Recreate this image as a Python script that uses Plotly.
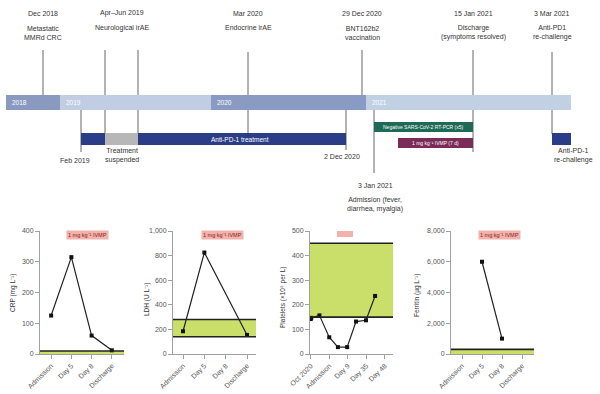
import plotly.graph_objects as go

W, H = 600, 394
def px(x): return x / W
def py(y): return 1 - y / H

FONT = "Liberation Sans, Arial, Helvetica, sans-serif"
GRAY = "#555555"

# ---------------- Panel a : timeline data (schematic positions) ----------------
years = ["2018", "2019", "2020", "2021"]
year_start = [6, 60, 211, 366]
year_end = [60, 211, 366, 571]
year_colors = ["#8a99c0", "#c0cde2", "#8a9bc3", "#c2d0e4"]

top_dates = ["Dec 2018", "Apr–Jun 2019", "Mar 2020", "29 Dec 2020", "15 Jan 2021", "3 Mar 2021"]
top_texts = ["Metastatic<br>MMRd CRC", "Neurological irAE", "Endocrine irAE",
             "BNT162b2<br>vaccination", "Discharge<br>(symptoms resolved)", "Anti-PD1<br>re-challenge"]
top_pos = [43, 122, 248, 362, 473, 552]

# event tick lines: position, top y, bottom y
event_lines = [(43, 50, 96), (105, 50, 134), (138, 50, 134), (248, 52, 134),
               (362, 50, 96), (473, 50, 152), (552, 52, 134),
               (81, 103, 152), (346, 103, 150), (374, 103, 173)]

# bars: start, end
treat_start, treat_end = 81, 346
suspend_start, suspend_end = 105, 138
rechal_start, rechal_end = 552, 571
pcr_start, pcr_end = 374, 473
ivmp_start, ivmp_end = 398, 473

# ---------------- Panel b : lab data ----------------
cats = ["Admission", "Day 5", "Day 8", "Discharge"]
crp = [125, 315, 60, 12]
ldh = [185, 825, None, 155]
ferritin = [None, 6000, 1000, None]

plt_ticks = ["Oct 2020", "Admission", "Day 9", "Day 35", "Day 48"]
plt_x = [0.0, 0.03, 0.47, 1.0, 1.47, 1.97, 2.45, 2.99, 3.48]
plt_y = [142, 147, 157, 68, 28, 28, 132, 137, 236]

crp_norm = [0, 10]
ldh_norm = [140, 280]
plt_norm = [150, 450]
fer_norm = [0, 300]

IVMP = "1 mg kg⁻¹ IVMP"

def xn(i): return "x" if i == 1 else f"x{i}"
def yn(i): return "y" if i == 1 else f"y{i}"
def xa(i): return "xaxis" if i == 1 else f"xaxis{i}"
def ya(i): return "yaxis" if i == 1 else f"yaxis{i}"

fig = go.Figure()
fig.update_layout(template="none")

# hidden axis for timeline
fig.update_layout(
    xaxis5=dict(domain=[0, 1], range=[0, 600], visible=False, anchor="y5", automargin=False),
    yaxis5=dict(domain=[py(215), 1], range=[0, 1], visible=False, anchor="x5", automargin=False),
)
fig.add_trace(go.Scatter(x=[0], y=[0], xaxis="x5", yaxis="y5", mode="markers",
                         marker=dict(opacity=0), showlegend=False, hoverinfo="skip"))

shapes = []
annotations = []

def tl_rect(x0, x1, y0, y1, color):
    shapes.append(dict(type="rect", xref="x5", yref="paper", x0=x0, x1=x1,
                       y0=py(y1), y1=py(y0), fillcolor=color, line=dict(width=0)))

def txt(x, y, text, size=7, color="#333333", xanchor="center", xref="paper", **kw):
    annotations.append(dict(x=x, y=py(y), xref=xref, yref="paper", text=text, showarrow=False,
                            font=dict(family=FONT, size=size, color=color), xanchor=xanchor,
                            yanchor="middle", **kw))

# event lines
for (x, y0, y1) in event_lines:
    shapes.append(dict(type="line", xref="x5", yref="paper", x0=x, x1=x, y0=py(y0), y1=py(y1),
                       line=dict(color="#666666", width=1)))

# year bar
for yr, s, e, c in zip(years, year_start, year_end, year_colors):
    tl_rect(s, e, 95, 110, c)
    txt(s + 4, 102.5, yr, size=6.5, color="white", xanchor="left", xref="x5")

# treatment bars
tl_rect(treat_start, treat_end, 133, 145, "#2b3d86")
tl_rect(suspend_start, suspend_end, 133, 145, "#b7b7b7")
tl_rect(rechal_start, rechal_end, 133, 145, "#2b3d86")
txt((suspend_end + treat_end) / 2 - 2, 139, "Anti-PD-1 treatment", size=6.5, color="white", xref="x5")
tl_rect(pcr_start, pcr_end, 122, 132, "#1f6a56")
txt((pcr_start + pcr_end) / 2, 127, "Negative SARS-CoV-2 RT-PCR (x5)", size=5, color="white", xref="x5")
tl_rect(ivmp_start, ivmp_end, 138, 148, "#7a2b57")
txt((ivmp_start + ivmp_end) / 2, 143, IVMP + " (7 d)", size=5, color="white", xref="x5")

# top labels
for d, t, p in zip(top_dates, top_texts, top_pos):
    txt(p, 13, d, size=7, xref="x5")
    nl = t.count("<br>")
    txt(p, 28 + 4.5 * nl, t, size=7, xref="x5")

# lower labels
txt(75, 161, "Feb 2019", size=7, xref="x5")
txt(122, 155, "Treatment<br>suspended", size=7, xref="x5")
txt(342, 157, "2 Dec 2020", size=7, xref="x5")
txt(573, 155, "Anti-PD-1<br>re-challenge", size=7, xref="x5")
txt(375, 185, "3 Jan 2021", size=7, xref="x5")
txt(375, 204, "Admission (fever,<br>diarrhea, myalgia)", size=7, xref="x5")

# panel letters
txt(7, 12, "<b>a</b>", size=8, color="#222")
txt(7, 236, "<b>b</b>", size=8, color="#222")

# ---------------- lab panels ----------------
YB, YT = 354, 231
panels = [
    dict(i=1, x0=40, x1=124, rng=[0, 400], xr=[-0.55, 3.6], dt=100),
    dict(i=2, x0=173, x1=256, rng=[0, 1000], xr=[-0.47, 3.42], dt=200),
    dict(i=3, x0=310, x1=393, rng=[0, 500], xr=[-0.04, 4.45], dt=100),
    dict(i=4, x0=451, x1=534, rng=[0, 8000], xr=[-0.55, 3.6], dt=2000),
]
ax_common = dict(showline=True, linecolor="#a0a0a0", linewidth=1, ticks="outside",
                 ticklen=4, tickcolor="#a0a0a0", showgrid=False, zeroline=False,
                 automargin=False, tickfont=dict(family=FONT, size=7, color=GRAY))
tickvals4 = [0, 1, 2, 3]
layout_axes = {}
for p in panels:
    i = p["i"]
    xd = dict(domain=[px(p["x0"]), px(p["x1"])], anchor=yn(i), range=p["xr"], tickangle=-45,
              **ax_common)
    if i == 3:
        xd.update(tickvals=[0, 1, 2, 3, 4], ticktext=plt_ticks)
    else:
        xd.update(tickvals=tickvals4, ticktext=cats)
    layout_axes[xa(i)] = xd
    layout_axes[ya(i)] = dict(domain=[py(YB), py(YT)], anchor=xn(i), range=p["rng"],
                              dtick=p["dt"], tickformat=",d", **ax_common)
fig.update_layout(**layout_axes)

def band(i, lo, hi, lower_line=True):
    shapes.append(dict(type="rect", xref=f"{xn(i)} domain", yref=yn(i), x0=0, x1=1, y0=lo, y1=hi,
                       fillcolor="#c9df6a", line=dict(width=0), layer="below"))
    shapes.append(dict(type="line", xref=f"{xn(i)} domain", yref=yn(i), x0=0, x1=1, y0=hi, y1=hi,
                       line=dict(color="#222", width=1.6)))
    if lower_line:
        shapes.append(dict(type="line", xref=f"{xn(i)} domain", yref=yn(i), x0=0, x1=1, y0=lo, y1=lo,
                           line=dict(color="#222", width=1.6)))

band(1, *crp_norm, lower_line=False)
band(2, *ldh_norm)
band(3, *plt_norm)
band(4, *fer_norm, lower_line=False)

line_style = dict(color="#222", width=1.2)
mk = dict(color="#111", size=4, symbol="square")
fig.add_trace(go.Scatter(x=tickvals4, y=crp, xaxis=xn(1), yaxis=yn(1), mode="lines+markers",
                         line=line_style, marker=mk, showlegend=False))
fig.add_trace(go.Scatter(x=tickvals4, y=ldh, xaxis=xn(2), yaxis=yn(2), mode="lines+markers",
                         connectgaps=True, line=line_style, marker=mk, showlegend=False))
fig.add_trace(go.Scatter(x=plt_x, y=plt_y, xaxis=xn(3), yaxis=yn(3), mode="lines+markers",
                         line=line_style, marker=mk, showlegend=False))
fig.add_trace(go.Scatter(x=tickvals4, y=ferritin, xaxis=xn(4), yaxis=yn(4), mode="lines+markers",
                         line=line_style, marker=mk, showlegend=False))

# IVMP badges
for bx in (87, 222, 499):
    annotations.append(dict(x=px(bx), y=py(235), xref="paper", yref="paper", showarrow=False,
                            text=IVMP, bgcolor="#f3b2ab", borderpad=1,
                            font=dict(family=FONT, size=5.5, color="#7a1f1f"),
                            xanchor="center", yanchor="middle"))
# platelets legend
shapes.append(dict(type="rect", xref="paper", yref="paper", x0=px(337), x1=px(353),
                   y0=py(237), y1=py(231), fillcolor="#f3b2ab", line=dict(width=0)))
txt(356, 234, IVMP, size=5.5, color="#333", xanchor="left")

# y-axis titles
for x, y, t in [(13, 293, "CRP (mg L⁻¹)"), (147, 300, "LDH (U L⁻¹)"),
                (283, 297, "Platelets (×10⁹ per L)"), (417, 295, "Ferritin (µg L⁻¹)")]:
    annotations.append(dict(x=px(x), y=py(y), xref="paper", yref="paper", text=t, showarrow=False,
                            textangle=-90, font=dict(family=FONT, size=6.5, color="#333"),
                            xanchor="center", yanchor="middle"))

fig.update_layout(width=W, height=H, margin=dict(l=0, r=0, t=0, b=0, autoexpand=False),
                  paper_bgcolor="white", plot_bgcolor="rgba(0,0,0,0)",
                  shapes=shapes, annotations=annotations, showlegend=False)

fig.write_html("out.html", config={"displayModeBar": False},
               post_script="document.body.style.margin='0';document.body.style.overflow='hidden';")
